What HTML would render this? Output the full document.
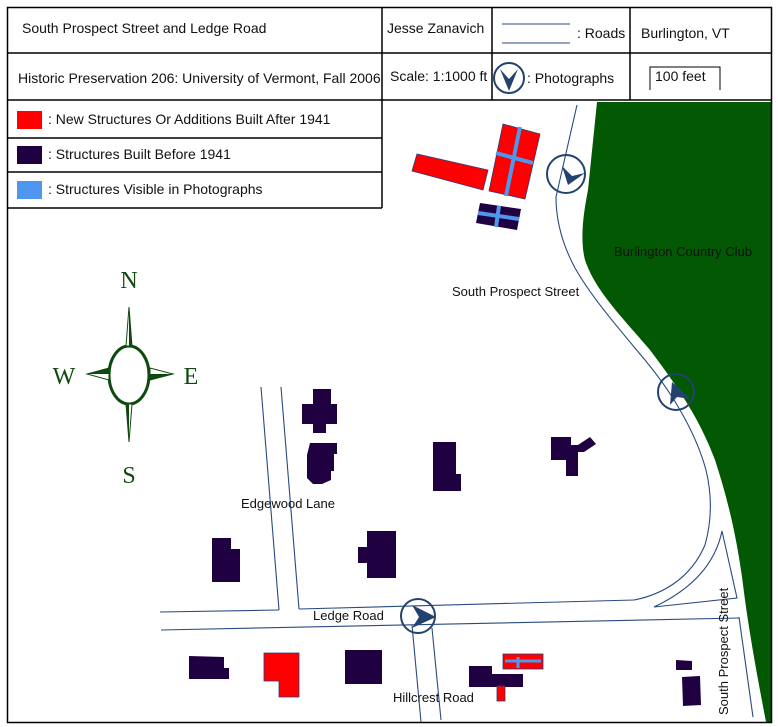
<!DOCTYPE html>
<html><head><meta charset="utf-8"><style>
html,body{margin:0;padding:0;background:#fff;}
svg{display:block;font-family:"Liberation Sans",sans-serif;}
</style></head><body>
<svg width="778" height="727" viewBox="0 0 778 727" xmlns="http://www.w3.org/2000/svg">
<rect x="0" y="0" width="778" height="727" fill="#fff"/>
<!-- green country club -->
<path d="M597,102 L772,102 L772,722 L766,722 C760,690 752,650 745,600 C738,540 728,500 715,460 C700,420 680,390 650,350 C620,315 595,290 585,260 C580,240 583,215 588,190 Z" fill="#035803"/>
<!-- frame -->
<rect x="7.5" y="7.5" width="764" height="715" fill="none" stroke="#000" stroke-width="1.5"/>
<!-- header table -->
<g stroke="#000" stroke-width="1.5" fill="none">
<line x1="7" y1="53" x2="772" y2="53"/>
<line x1="7" y1="100" x2="772" y2="100"/>
<line x1="382" y1="7" x2="382" y2="100"/>
<line x1="492" y1="7" x2="492" y2="100"/>
<line x1="630" y1="7" x2="630" y2="100"/>
<line x1="7" y1="138" x2="382" y2="138"/>
<line x1="7" y1="172" x2="382" y2="172"/>
<line x1="7" y1="208" x2="382" y2="208"/>
<line x1="382" y1="100" x2="382" y2="208"/>
<path d="M650,90 L650,67 L720,67 L720,90" stroke-width="1"/>
</g>
<g font-size="14" fill="#111">
<text x="22" y="33">South Prospect Street and Ledge Road</text>
<text x="387" y="33">Jesse Zanavich</text>
<text x="577" y="38">: Roads</text>
<text x="641" y="38">Burlington, VT</text>
<text x="18" y="83">Historic Preservation 206: University of Vermont, Fall 2006</text>
<text x="390" y="81">Scale: 1:1000 ft</text>
<text x="527" y="83">: Photographs</text>
<text x="655" y="81">100 feet</text>
<text x="48" y="124">: New Structures Or Additions Built After 1941</text>
<text x="48" y="159">: Structures Built Before 1941</text>
<text x="48" y="194">: Structures Visible in Photographs</text>
</g>
<g stroke="#2a4a80" stroke-width="1" fill="none">
<line x1="502" y1="24" x2="570" y2="24"/>
<line x1="502" y1="43" x2="570" y2="43"/>
</g>
<rect x="17" y="111" width="25" height="18" fill="#ff0000"/>
<rect x="17" y="146" width="25" height="18" fill="#1f0040"/>
<rect x="17" y="181" width="25" height="18" fill="#4f97ee"/>
<!-- roads -->
<g stroke="#2a4a80" stroke-width="1.1" fill="none">
<path d="M577,105 L556,197 C556,215 560,240 575,268 C592,298 620,330 645,360 C670,390 695,430 706,470 C712,495 712,520 705,545 C690,580 660,595 634,600"/>
<path d="M722,531 L737,598 L654,607 C690,590 715,565 722,531 Z"/>
<path d="M739,617 L753,717"/>
<path d="M161,630 L739,618"/>
<path d="M160,612 L279,610"/>
<path d="M299,609 L634,600"/>
<path d="M261,387 L279,610"/>
<path d="M281,387 L299,609"/>
<path d="M412,625 L421,722"/>
<path d="M432,628 L441,720"/>
</g>
<!-- buildings -->
<g fill="#1f0040">
<polygon points="313,389 331,389 331,404 337,404 337,424 326,424 326,433 313,433 313,424 302,424 302,404 313,404"/>
<polygon points="310,443 337,443 337,454 334,454 334,471 331,471 331,480 322,484 313,484 307,478 307,455"/>
<polygon points="433,442 456,442 456,474 461,474 461,491 433,491"/>
<polygon points="551,437 571,437 571,445 578,445 590,437 596,444 584,452 578,452 578,476 566,476 566,460 551,460"/>
<polygon points="212,538 231,538 231,549 240,549 240,582 212,582"/>
<polygon points="367,531 396,531 396,578 367,578 367,563 358,563 358,547 367,547"/>
<polygon points="189,656 224,657 224,668 229,668 229,679 189,679"/>
<rect x="345" y="650" width="37" height="34"/>
<polygon points="469,666 492,666 492,674 523,674 523,687 469,687"/>
<polygon points="676,660 692,661 692,670 676,670"/>
<polygon points="682,677 700,676 701,705 683,706"/>
<polygon points="480,203 521,209 517,230 476,223"/>
</g>
<g fill="#ff0000" stroke="#2a3a7a" stroke-width="0.8">
<polygon points="264,653 299,653 299,697 279,697 279,681 264,681"/>
<rect x="497" y="686" width="8" height="15"/>
<rect x="503" y="654" width="40" height="15"/>
<polygon points="412,171 417,154 488,170 483,190"/>
<polygon points="503,124 540,134 525,199 489,191"/>
</g>
<g stroke="#4f97ee" stroke-width="4">
<line x1="505" y1="661" x2="541" y2="661" stroke-width="3"/>
<line x1="518" y1="657" x2="518" y2="668" stroke-width="3"/>
<line x1="520" y1="127" x2="506" y2="196"/>
<line x1="496" y1="153" x2="533" y2="163"/>
<line x1="478" y1="213" x2="519" y2="219"/>
<line x1="499" y1="206" x2="496" y2="227"/>
</g>
<!-- photo markers -->
<g stroke="#24426e" stroke-width="2" fill="none">
<circle cx="566" cy="174" r="19"/>
<circle cx="676" cy="392" r="18"/>
<circle cx="418" cy="616" r="17"/>
<circle cx="509" cy="78" r="15"/>
</g>
<g fill="#24426e">
<polygon points="562,166 568,185 585,173 572,176"/>
<polygon points="672,382 670,405 677,397 690,399"/>
<polygon points="412,605 436,617 412,628 419,617"/>
<polygon points="500,69 509,91 518,69 509,79"/>
</g>
<!-- compass -->
<g fill="#0e4a0e" stroke="#0e4a0e">
<ellipse cx="129" cy="375" rx="20" ry="29" fill="none" stroke-width="3"/>
<polygon points="129,307 126,346 132,346" stroke-width="1" fill="#fff"/>
<polygon points="129,307 129,346 132,346" stroke-width="0"/>
<polygon points="129,442 126,404 132,404" stroke-width="1" fill="#fff"/>
<polygon points="129,442 129,404 126,404" stroke-width="0"/>
<polygon points="87,374 109,368 109,380" stroke-width="1" fill="#fff"/>
<polygon points="87,374 109,368 109,374" stroke-width="0"/>
<polygon points="173,374 150,368 150,380" stroke-width="1" fill="#fff"/>
<polygon points="173,374 150,380 150,374" stroke-width="0"/>
</g>
<g font-family="Liberation Serif,serif" font-size="24" fill="#0e4a0e" text-anchor="middle">
<text x="129" y="288">N</text>
<text x="129" y="483">S</text>
<text x="64" y="384">W</text>
<text x="191" y="384">E</text>
</g>
<!-- labels -->
<g font-size="13" fill="#111">
<text x="452" y="296">South Prospect Street</text>
<text x="614" y="256">Burlington Country Club</text>
<text x="241" y="508">Edgewood Lane</text>
<text x="313" y="620">Ledge Road</text>
<text x="393" y="702">Hillcrest Road</text>
<text transform="translate(728,715) rotate(-90)">South Prospect Street</text>
</g>
</svg>
</body></html>
